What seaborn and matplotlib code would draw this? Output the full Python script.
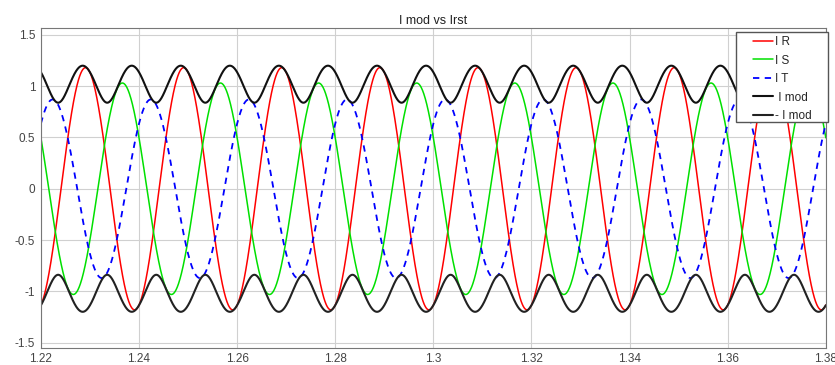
import numpy as np
import pandas as pd
import seaborn as sns
import matplotlib.pyplot as plt
from matplotlib.patches import Rectangle

sns.set_theme(style='whitegrid')
plt.rcParams['font.family'] = ['Liberation Sans', 'DejaVu Sans']

# phase currents: amplitude and time of a positive peak
phases = ['I R', 'I S', 'I T']
amplitudes = [1.18, 1.03, 0.87]
peak_times = [1.2291, 1.2366, 1.2424]
freq = 50.0

x_ticks = [1.22, 1.24, 1.26, 1.28, 1.3, 1.32, 1.34, 1.36, 1.38]
x_labels = ['1.22', '1.24', '1.26', '1.28', '1.3', '1.32', '1.34', '1.36', '1.38']
y_ticks = [-1.5, -1, -0.5, 0, 0.5, 1, 1.5]
y_labels = ['-1.5', '-1', '-0.5', '0', '0.5', '1', '1.5']

t = np.arange(1.22, 1.38 + 1e-5, 5e-5)
df = pd.DataFrame({'t': t})
for name, a, tp in zip(phases, amplitudes, peak_times):
    df[name] = a * np.cos(2 * np.pi * freq * (t - tp))

# modulus of the space vector (Clarke transform)
i_alpha = 2 / 3 * (df['I R'] - 0.5 * df['I S'] - 0.5 * df['I T'])
i_beta = 2 / 3 * (np.sqrt(3) / 2) * (df['I S'] - df['I T'])
df['I mod'] = np.sqrt(i_alpha ** 2 + i_beta ** 2)
df['- I mod'] = -df['I mod']

fig = plt.figure(figsize=(8.35, 3.65), dpi=100)
ax = fig.add_axes([0.049, 0.047, 0.940, 0.876])

sns.lineplot(data=df, x='t', y='I R', ax=ax, color='#ff0000', lw=1.1, label='I R')
sns.lineplot(data=df, x='t', y='I S', ax=ax, color='#00e000', lw=1.1, label='I S')
sns.lineplot(data=df, x='t', y='I T', ax=ax, color='#0000ff', lw=1.3, ls=(0, (3.5, 3.0)), label='I T')
sns.lineplot(data=df, x='t', y='I mod', ax=ax, color='#111111', lw=1.5, label=' I mod')
sns.lineplot(data=df, x='t', y='- I mod', ax=ax, color='#222222', lw=1.5, label='- I mod')

ax.set_xlim(1.22, 1.38)
ax.set_ylim(-1.55, 1.565)
ax.set_xticks(x_ticks)
ax.set_xticklabels(x_labels)
ax.set_yticks(y_ticks)
ax.set_yticklabels(y_labels)
ax.set_xlabel('')
ax.set_ylabel('')
ax.set_title('I mod vs Irst', fontsize=9, color='#222222', pad=3)
ax.tick_params(labelsize=8.5, colors='#444444', length=3, direction='in', pad=4)
ax.grid(True, color='#d0d0d0', lw=0.8)
for s in ax.spines.values():
    s.set_color('#777777')
    s.set_linewidth(0.8)

# legend box drawn separately so it gets the wide side margins of the original
box = Rectangle((0.885, 0.706), 0.1175, 0.2815, transform=ax.transAxes,
                facecolor='white', edgecolor='#555555', lw=1.0, zorder=4.5, clip_on=False)
ax.add_patch(box)
leg = ax.legend(loc='upper left', bbox_to_anchor=(0.907, 0.975), borderaxespad=0,
                fontsize=8.5, frameon=False, handlelength=1.7,
                handletextpad=0.15, labelspacing=0.55, borderpad=0)
leg.set_zorder(5)

fig.savefig('out.png', dpi=100)
